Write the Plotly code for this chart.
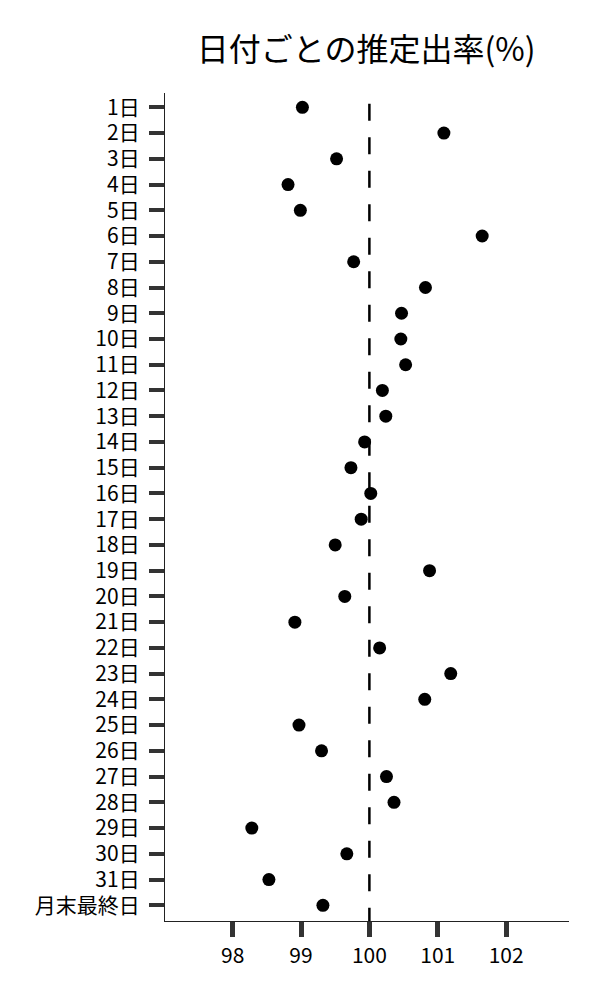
import plotly.graph_objects as go

# categories (top to bottom)
days = [f"{d}日" for d in range(1, 32)] + ["月末最終日"]

# estimated rate per day (%)
rates = [
    99.02, 101.09, 99.52, 98.81, 98.99, 101.65, 99.77, 100.82,
    100.47, 100.46, 100.53, 100.19, 100.24, 99.93, 99.73, 100.02,
    99.88, 99.50, 100.88, 99.64, 98.91, 100.15, 101.19, 100.81,
    98.97, 99.30, 100.25, 100.36, 98.28, 99.67, 98.53, 99.32,
]

x_ticks = [98, 99, 100, 101, 102]
ref_value = 100

FONT = "Noto Sans CJK JP"

fig = go.Figure()

fig.add_trace(
    go.Scatter(
        x=rates,
        y=days,
        mode="markers",
        marker=dict(color="black", size=13),
        showlegend=False,
    )
)

# reference line at 100%
fig.add_shape(
    type="line",
    xref="x", yref="paper",
    x0=ref_value, x1=ref_value,
    y0=0.987, y1=0,
    line=dict(color="black", width=2.5, dash="17px,16.5px"),
)

fig.update_layout(
    width=600,
    height=1000,
    margin=dict(l=157, r=39, t=85, b=87),
    paper_bgcolor="white",
    plot_bgcolor="white",
    font=dict(family=FONT, size=21, color="black"),
    title=dict(
        text="日付ごとの推定出率(%)",
        x=0.597, xanchor="center",
        y=0.958, yanchor="middle",
        font=dict(family=FONT, size=32, color="black"),
    ),
    xaxis=dict(
        range=[97.01, 102.92],
        tickmode="array",
        tickvals=x_ticks,
        ticktext=[str(v) for v in x_ticks],
        showgrid=False,
        zeroline=False,
        showline=True,
        linecolor="#222",
        linewidth=1.3,
        ticks="outside",
        ticklen=15,
        tickwidth=5,
        tickcolor="#333",
        ticklabelstandoff=1,
    ),
    yaxis=dict(
        type="category",
        categoryorder="array",
        categoryarray=days,
        range=[31.61, -0.556],
        showgrid=False,
        zeroline=False,
        showline=True,
        linecolor="#222",
        linewidth=1.3,
        ticks="outside",
        ticklen=15,
        tickwidth=4,
        tickcolor="#333",
        ticklabelstandoff=5,
    ),
)

fig.write_html("out.html")
